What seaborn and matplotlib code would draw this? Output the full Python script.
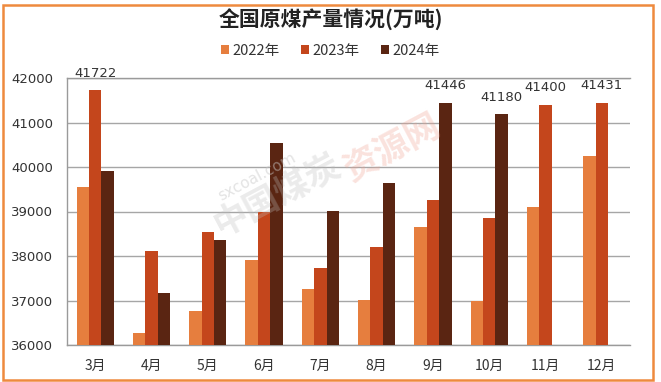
import numpy as np
import pandas as pd
import matplotlib
matplotlib.use("Agg")
import matplotlib.pyplot as plt
import seaborn as sns
from matplotlib.patches import Rectangle

months = ['3月', '4月', '5月', '6月', '7月', '8月', '9月', '10月', '11月', '12月']
years = ['2022年', '2023年', '2024年']
v2022 = [39550, 36270, 36770, 37920, 37250, 37020, 38650, 36990, 39100, 40250]
v2023 = [41722, 38110, 38540, 38980, 37730, 38200, 39260, 38850, 41400, 41431]
v2024 = [39900, 37160, 38370, 40530, 39020, 39630, 41446, 41180, np.nan, np.nan]
labels = {('3月', '2023年'): 41722, ('9月', '2024年'): 41446, ('10月', '2024年'): 41180,
          ('11月', '2023年'): 41400, ('12月', '2023年'): 41431}
colors = ['#E67E3E', '#C4461C', '#5A2512']

rows = []
for y, vals in zip(years, [v2022, v2023, v2024]):
    for m, v in zip(months, vals):
        rows.append({'month': m, 'year': y, 'value': v})
df = pd.DataFrame(rows)

sns.set_theme(style='white')
plt.rcParams['font.family'] = ['DejaVu Sans', 'Noto Sans CJK SC']
cjk = ['Noto Sans CJK SC', 'DejaVu Sans']
num = ['DejaVu Sans', 'Noto Sans CJK SC']

fig = plt.figure(figsize=(6.61, 3.82), dpi=100)
ax = fig.add_axes([67/661, 1-345/382, (630-67)/661, (345-78)/382])

sns.barplot(data=df, x='month', y='value', hue='year', order=months, hue_order=years,
            palette=colors, width=0.66, gap=0, saturation=1, ax=ax, legend=True,
            edgecolor='none', linewidth=0, zorder=3)

ax.set_ylim(36000, 42000)
ax.set_yticks(range(36000, 42001, 1000))
ax.set_xlim(-0.5, len(months) - 0.5)
ax.grid(axis='y', color='#A6A6A6', linewidth=1, zorder=0)
ax.set_axisbelow(True)
ax.spines['right'].set_visible(False)
for s in ['left', 'bottom', 'top']:
    ax.spines[s].set_color('#9A9A9A')
    ax.spines[s].set_linewidth(1)
ax.tick_params(axis='both', length=0, colors='#333333')
ax.tick_params(axis='y', pad=10)
ax.tick_params(axis='x', pad=10)
for t in ax.get_yticklabels():
    t.set_fontfamily(num)
    t.set_fontsize(9.5)
for t in ax.get_xticklabels():
    t.set_fontfamily(cjk)
    t.set_fontsize(10)
ax.set_xlabel('')
ax.set_ylabel('')

# value labels
for cont, y in zip(ax.containers, years):
    for bar, m in zip(cont, months):
        if (m, y) in labels:
            ax.annotate(str(labels[(m, y)]), (bar.get_x() + bar.get_width()/2, bar.get_height()),
                        xytext=(0, 12.5), textcoords='offset points', ha='center', va='center',
                        fontsize=9.5, family=num, color='#333333', annotation_clip=False)

leg = ax.legend(loc='center', bbox_to_anchor=(0.5, 1 - 51/382), bbox_transform=fig.transFigure,
                ncol=3, frameon=False, prop={'family': cjk, 'size': 10.5},
                handlelength=0.55, handleheight=0.55, handletextpad=0.2, columnspacing=1.5)
for t in leg.get_texts():
    t.set_color('#333333')

fig.text(0.5, 1 - 20/382, '全国原煤产量情况(万吨)', ha='center', va='center', family=cjk,
         fontsize=15, fontweight='bold', color='#222222')

# watermark
fig.text(257/661, 1 - 177/382, 'sxcoal.com', rotation=28, fontsize=11, color='#C8C8C8',
         alpha=0.5, ha='center', va='center')
fig.text(278/661, 1 - 195/382, '中国煤炭', rotation=28, fontsize=25, fontweight='bold', family=cjk,
         color='#BDBDBD', alpha=0.3, ha='center', va='center')
fig.text(392/661, 1 - 147/382, '资源网', rotation=28, fontsize=25, fontweight='bold', family=cjk,
         color='#F0A090', alpha=0.3, ha='center', va='center')

# outer orange frame
fig.patches.append(Rectangle((3/661, 1 - 380/382), 650/661, 375/382, transform=fig.transFigure,
                             fill=False, edgecolor='#EE8A3E', linewidth=1.8))

fig.savefig('out.png', dpi=100)
